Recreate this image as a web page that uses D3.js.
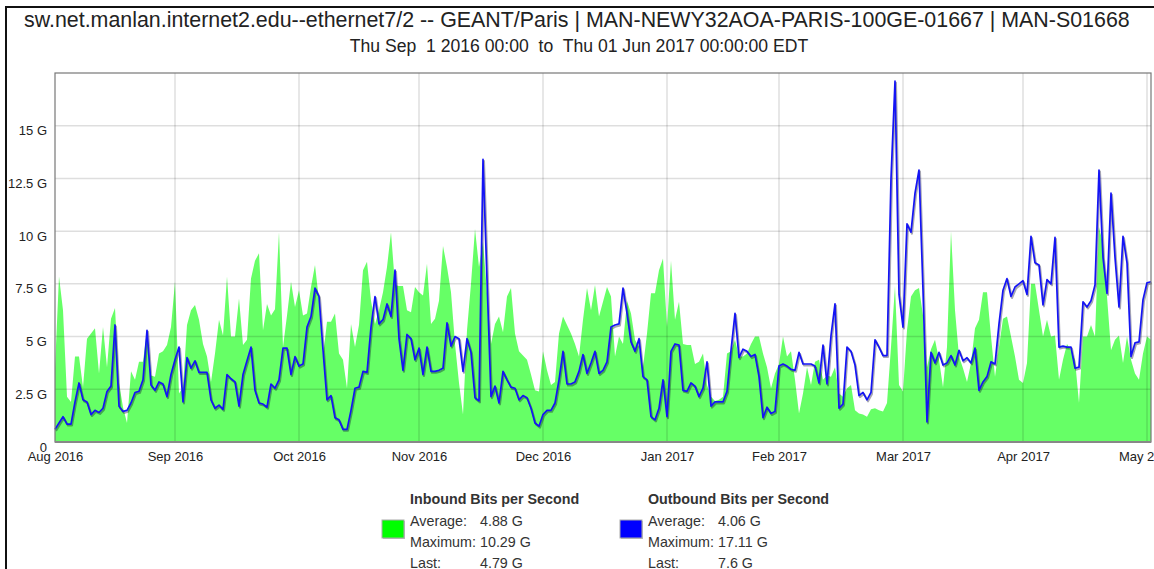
<!DOCTYPE html>
<html lang="en">
<head>
<meta charset="UTF-8">
<title>GEANT/Paris traffic</title>
<script src="https://d3js.org/d3.v7.min.js"></script>
<style>
  body { margin: 0; background: #fff; font-family: "Liberation Sans", Arial, sans-serif; }
  svg { display: block; }
  text { white-space: pre; }
</style>
</head>
<body>
<div id="chart"></div>
<script>
  // data: one value per day starting at startDate, in Gbps
  const startDate = new Date(2016, 8, 1);
  const title = "sw.net.manlan.internet2.edu--ethernet7/2 -- GEANT/Paris | MAN-NEWY32AOA-PARIS-100GE-01667 | MAN-S01668";
  const subtitle = "Thu Sep  1 2016 00:00  to  Thu 01 Jun 2017 00:00:00 EDT";
  const monthLabels = ["Aug 2016", "Sep 2016", "Oct 2016", "Nov 2016", "Dec 2016",
                       "Jan 2017", "Feb 2017", "Mar 2017", "Apr 2017", "May 2017"];
  const yTicks = [0, 2.5, 5, 7.5, 10, 12.5, 15];

  const inbound = [
    3.5, 7.85, 6.25, 2.15, 1.9, 4.05, 4.05, 2.6, 4.9, 5.15,
    5.4, 3.25, 5.45, 3.55, 5.85, 6.35, 2.8, 1.65, 0.9, 3.35,
    2.95, 3.8, 3.8, 5.3, 3.15, 3.1, 4.2, 4.3, 4.6, 5.45,
    7.6, 2.3, 2.6, 5.55, 6.25, 6.5, 5.8, 4.65, 4.05, 2.85,
    4.2, 5.8, 5.05, 7.85, 5.0, 5.0, 6.8, 4.6, 4.85, 7.75,
    8.6, 8.95, 5.3, 6.55, 6.0, 6.3, 9.95, 4.5, 6.0, 7.6,
    6.4, 7.2, 6.0, 6.1, 7.35, 8.4, 6.7, 4.05, 5.7, 5.7,
    6.1, 4.2, 3.9, 2.55, 5.6, 4.5, 5.55, 8.15, 8.55, 6.7,
    5.6, 6.25, 7.1, 8.3, 9.95, 7.45, 7.4, 7.4, 6.25, 6.15,
    7.35, 7.1, 6.95, 8.45, 5.6, 5.85, 6.7, 9.3, 8.3, 7.1,
    4.65, 2.8, 1.3, 5.3, 7.5, 10.1, 8.3, 9.5, 7.05, 4.65,
    5.6, 5.95, 5.2, 6.9, 7.3, 5.15, 4.3, 4.1, 3.9, 3.2,
    2.45, 2.4, 4.3, 3.4, 2.7, 2.85, 5.15, 5.95, 5.55, 5.15,
    4.65, 4.05, 5.8, 7.3, 6.25, 7.45, 5.95, 6.65, 7.35, 6.9,
    4.05, 5.0, 4.65, 6.7, 6.1, 4.85, 4.5, 3.55, 5.15, 7.05,
    7.05, 8.15, 8.7, 5.45, 8.6, 5.8, 6.65, 4.65, 4.6, 4.6,
    3.7, 3.8, 4.2, 2.7, 2.15, 1.95, 2.0, 2.15, 4.2, 4.3,
    4.85, 4.05, 4.05, 4.2, 4.65, 5.0, 5.0, 4.2, 3.55, 2.55,
    3.25, 3.7, 5.0, 4.05, 4.3, 2.95, 1.35, 2.3, 3.55, 2.7,
    3.8, 3.9, 2.95, 3.15, 3.1, 3.55, 2.3, 2.15, 2.55, 2.7,
    1.5, 1.35, 1.3, 1.2, 1.55, 1.6, 1.5, 1.45, 1.85, 4.5,
    7.4, 2.7, 2.4, 5.3, 6.9, 7.2, 7.3, 6.0, 3.55, 4.4,
    4.85, 3.9, 2.6, 4.5, 10.0, 6.25, 4.05, 3.5, 2.85, 3.75,
    5.4, 5.8, 7.1, 7.1, 5.0, 3.1, 4.5, 5.85, 5.95, 5.0,
    4.05, 2.95, 2.8, 3.75, 7.5, 7.5, 6.25, 5.0, 5.8, 5.0,
    5.05, 2.95, 3.9, 4.65, 4.35, 3.9, 1.85, 5.0, 5.0, 5.55,
    5.0, 10.2, 9.4, 6.9, 4.35, 4.85, 5.05, 3.75, 5.0, 3.9,
    3.25, 2.95, 4.2, 5.0, 4.85
  ];

  const outbound = [
    0.6, 0.9, 1.2, 0.85, 0.85, 1.9, 2.8, 2.0, 1.9, 1.3,
    1.5, 1.4, 1.6, 2.4, 2.65, 5.55, 1.7, 1.45, 1.5, 1.85,
    2.35, 2.4, 2.95, 5.3, 2.7, 2.45, 2.85, 2.75, 2.15, 3.2,
    3.9, 4.5, 1.9, 4.0, 3.5, 3.85, 3.3, 3.3, 3.3, 2.0,
    1.6, 1.75, 1.55, 3.2, 3.0, 2.85, 1.7, 3.2, 3.85, 4.5,
    2.45, 1.85, 1.8, 1.65, 2.75, 2.55, 2.95, 4.45, 4.45, 3.2,
    4.05, 3.6, 3.7, 5.45, 5.95, 7.3, 6.9, 4.35, 2.0, 2.2,
    1.15, 1.05, 0.6, 0.6, 1.5, 2.55, 2.6, 3.35, 3.3, 5.45,
    6.9, 5.6, 5.8, 6.55, 5.95, 8.15, 4.9, 3.4, 5.1, 4.9,
    3.9, 4.45, 3.2, 4.5, 3.35, 3.35, 3.4, 3.5, 5.65, 4.55,
    5.0, 4.9, 3.35, 4.9, 4.25, 2.1, 1.95, 13.4, 7.7, 2.15,
    2.65, 1.85, 3.35, 2.95, 2.6, 2.55, 2.0, 2.2, 2.1, 1.6,
    0.9, 0.75, 1.3, 1.5, 1.5, 1.85, 2.95, 4.3, 2.75, 2.75,
    2.85, 3.35, 4.15, 3.25, 3.75, 4.3, 3.25, 3.4, 3.8, 5.45,
    5.55, 5.6, 7.3, 6.1, 4.75, 4.3, 4.9, 3.1, 2.95, 1.2,
    1.05, 1.6, 2.95, 1.2, 4.3, 4.65, 4.6, 2.45, 2.4, 2.8,
    2.65, 2.15, 2.55, 3.8, 1.7, 1.9, 1.9, 1.9, 2.4, 4.35,
    6.1, 4.0, 4.4, 4.3, 4.05, 4.15, 3.1, 1.15, 1.65, 1.35,
    1.45, 3.6, 3.7, 3.6, 3.45, 3.4, 4.25, 3.7, 3.7, 3.7,
    3.6, 2.8, 4.6, 2.75, 5.05, 6.55, 1.6, 1.8, 4.5, 4.3,
    3.65, 2.2, 2.35, 2.0, 2.35, 4.85, 4.5, 4.1, 4.1, 12.5,
    17.11, 7.0, 5.45, 10.35, 9.95, 11.8, 12.9, 7.2, 0.95, 4.25,
    3.75, 4.25, 3.65, 3.75, 4.1, 3.65, 4.35, 3.85, 4.0, 3.75,
    4.45, 2.45, 2.85, 3.1, 3.8, 3.7, 5.6, 7.2, 7.75, 6.9,
    7.35, 7.5, 7.65, 7.0, 9.75, 8.5, 8.4, 6.5, 7.7, 7.5,
    9.7, 4.5, 4.55, 4.5, 4.5, 3.5, 3.55, 6.65, 6.4, 6.7,
    7.45, 12.9, 8.75, 7.05, 11.8, 8.75, 6.4, 9.75, 8.5, 4.05,
    4.7, 4.75, 6.75, 7.55, 7.6
  ];

  const legendItems = [
    { name: "Inbound Bits per Second", color: "#00ff00", avg: "4.88 G", max: "10.29 G", last: "4.79 G" },
    { name: "Outbound Bits per Second", color: "#0000ff", avg: "4.06 G", max: "17.11 G", last: "7.6 G" }
  ];

  const width = 1154, height = 569;
  const plot = { left: 55, right: 1151, top: 73, bottom: 442 };

  const svg = d3.select("#chart").append("svg")
    .attr("width", width).attr("height", height);

  // outer frame (runs off the right and bottom edges)
  svg.append("rect")
    .attr("x", 6).attr("y", 7).attr("width", 1300).attr("height", 700)
    .attr("fill", "#fff").attr("stroke", "#111").attr("stroke-width", 2);

  svg.append("text")
    .attr("x", 24).attr("y", 27)
    .attr("font-size", 21.4).attr("fill", "#222")
    .text(title);

  svg.append("text")
    .attr("x", 579).attr("y", 52).attr("text-anchor", "middle")
    .attr("font-size", 17.6).attr("fill", "#222")
    .text(subtitle);

  const days = inbound.length - 1;
  const x = d3.scaleTime()
    .domain([startDate, d3.timeDay.offset(startDate, days)])
    .range([plot.left, plot.right]);
  const y = d3.scaleLinear().domain([0, 17.5]).range([plot.bottom, plot.top]);

  const dateOf = i => d3.timeDay.offset(startDate, i);
  const monthTicks = d3.timeMonth.range(startDate, d3.timeDay.offset(startDate, days + 1));

  svg.append("rect")
    .attr("x", plot.left).attr("y", plot.top)
    .attr("width", plot.right - plot.left).attr("height", plot.bottom - plot.top)
    .attr("fill", "#fff");

  // inbound area
  svg.append("path")
    .datum(inbound)
    .attr("fill", "#66ff66")
    .attr("d", d3.area().x((d, i) => x(dateOf(i))).y0(y(0)).y1(d => y(d)));

  // grid
  const grid = svg.append("g").attr("stroke", "rgba(0,0,0,0.13)").attr("stroke-width", 1.5);
  grid.selectAll(".hg").data(yTicks.slice(1)).join("line")
    .attr("x1", plot.left).attr("x2", plot.right)
    .attr("y1", d => y(d)).attr("y2", d => y(d));
  grid.selectAll(".vg").data(monthTicks.slice(1)).join("line")
    .attr("x1", d => x(d)).attr("x2", d => x(d))
    .attr("y1", plot.top).attr("y2", plot.bottom);

  // outbound line with a soft shadow
  const line = d3.line().x((d, i) => x(dateOf(i))).y(d => y(d));
  svg.append("path")
    .datum(outbound)
    .attr("fill", "none").attr("stroke", "rgba(0,0,40,0.35)").attr("stroke-width", 2)
    .attr("stroke-linejoin", "round")
    .attr("transform", "translate(1,1.5)")
    .attr("d", line);
  svg.append("path")
    .datum(outbound)
    .attr("fill", "none").attr("stroke", "#1414f5").attr("stroke-width", 1.7)
    .attr("stroke-linejoin", "round")
    .attr("d", line);

  // plot border
  svg.append("rect")
    .attr("x", plot.left).attr("y", plot.top)
    .attr("width", plot.right - plot.left).attr("height", plot.bottom - plot.top)
    .attr("fill", "none").attr("stroke", "#777").attr("stroke-width", 1.2);
  svg.append("line")
    .attr("x1", plot.left).attr("x2", plot.right)
    .attr("y1", plot.bottom).attr("y2", plot.bottom)
    .attr("stroke", "#888").attr("stroke-width", 2);

  // y axis labels
  const yAxis = d3.axisLeft(y).tickValues(yTicks).tickSize(0).tickPadding(8)
    .tickFormat(d => d === 0 ? "0" : d + " G");
  svg.append("g")
    .attr("transform", `translate(${plot.left},0)`)
    .call(yAxis)
    .call(g => g.select(".domain").remove())
    .call(g => g.selectAll("text").attr("font-size", 13).attr("fill", "#222")
      .attr("font-family", "Liberation Sans, Arial, sans-serif").attr("dy", "0.7em"));

  // x axis labels (as printed on the original)
  const xAxis = d3.axisBottom(x).tickValues(monthTicks).tickSize(0).tickPadding(10)
    .tickFormat((d, i) => monthLabels[i]);
  svg.append("g")
    .attr("transform", `translate(0,${plot.bottom})`)
    .call(xAxis)
    .call(g => g.select(".domain").remove())
    .call(g => g.selectAll("text").attr("font-size", 13).attr("fill", "#222")
      .attr("font-family", "Liberation Sans, Arial, sans-serif"));

  // legend
  const legend = svg.append("g").attr("font-size", 14.3).attr("fill", "#333");
  legendItems.forEach((item, i) => {
    const g = legend.append("g").attr("transform", `translate(${382 + i * 238},0)`);
    g.append("rect").attr("x", 1).attr("y", 521).attr("width", 22).attr("height", 18)
      .attr("fill", "#bbb");
    g.append("rect").attr("x", 0).attr("y", 520).attr("width", 22).attr("height", 18)
      .attr("fill", item.color).attr("stroke", "#aaa").attr("stroke-width", 1);
    g.append("text").attr("x", 28).attr("y", 504).attr("font-weight", "bold").text(item.name);
    const rows = [["Average:", item.avg], ["Maximum:", item.max], ["Last:", item.last]];
    rows.forEach((r, j) => {
      g.append("text").attr("x", 28).attr("y", 526 + j * 21).text(r[0]);
      g.append("text").attr("x", 98).attr("y", 526 + j * 21).text(r[1]);
    });
  });
</script>
</body>
</html>
